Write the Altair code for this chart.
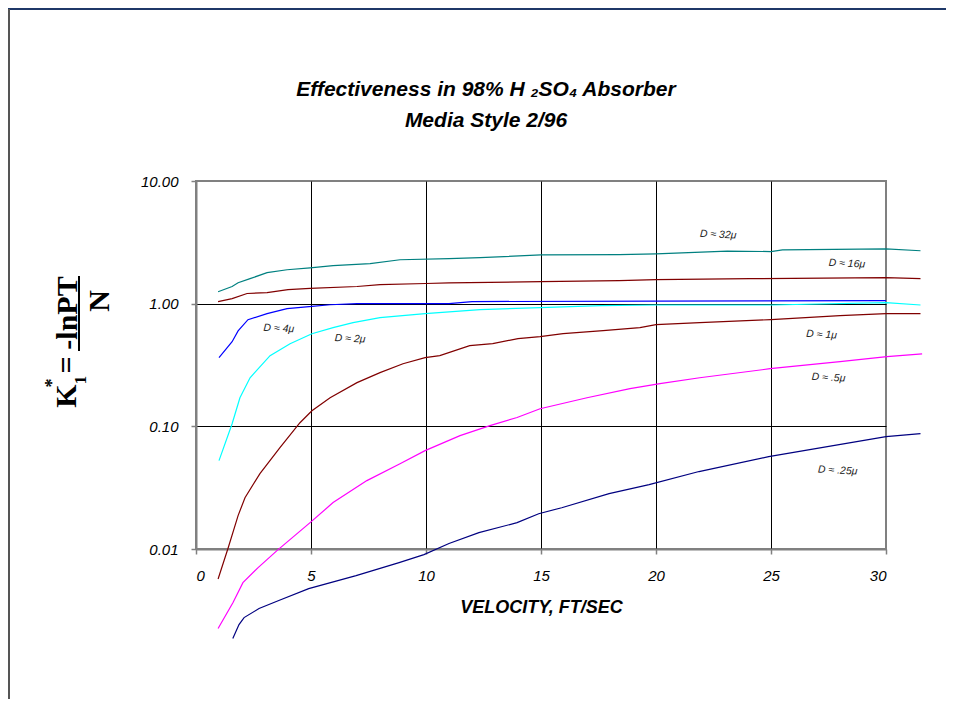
import altair as alt
import pandas as pd

# ---------------- data ----------------
series = ["D ≈ 32μ", "D ≈ 16μ", "D ≈ 4μ", "D ≈ 2μ", "D ≈ 1μ", "D ≈ .5μ", "D ≈ .25μ"]
colors = ["#008080", "#800000", "#0000FF", "#00FFFF", "#800000", "#FF00FF", "#000080"]

vel_32 = [0.96, 1.57, 1.83, 2.35, 3.09, 3.96, 4.96, 5.96, 7.57, 8.87, 11.0, 12.35, 15.0, 18.4, 20.0, 23.1, 25.0, 25.5, 30.0, 31.5]
k_32 = [1.25, 1.38, 1.48, 1.60, 1.79, 1.89, 1.96, 2.04, 2.12, 2.28, 2.33, 2.37, 2.50, 2.51, 2.55, 2.68, 2.66, 2.74, 2.80, 2.70]

vel_16 = [0.96, 1.57, 2.22, 3.09, 4.0, 4.96, 7.0, 8.0, 10.0, 11.0, 15.0, 18.4, 20.0, 24.1, 30.0, 31.5]
k_16 = [1.04, 1.10, 1.21, 1.23, 1.30, 1.33, 1.38, 1.43, 1.46, 1.48, 1.51, 1.54, 1.57, 1.60, 1.63, 1.60]

vel_4 = [1.0, 1.57, 1.83, 2.26, 3.09, 3.96, 5.04, 5.83, 7.0, 11.0, 12.0, 20.0, 30.0]
k_4 = [0.363, 0.49, 0.60, 0.74, 0.83, 0.91, 0.95, 0.98, 1.0, 1.0, 1.04, 1.05, 1.06]

vel_2 = [1.0, 1.57, 1.91, 2.35, 3.22, 4.09, 5.04, 5.96, 6.83, 8.0, 9.96, 12.35, 14.96, 17.6, 20.0, 25.0, 30.0, 31.5]
k_2 = [0.0525, 0.105, 0.171, 0.249, 0.377, 0.472, 0.569, 0.637, 0.70, 0.769, 0.829, 0.894, 0.928, 0.964, 0.975, 0.975, 1.02, 0.975]

vel_1 = [0.96, 1.39, 1.83, 2.13, 2.78, 3.65, 4.52, 5.04, 5.83, 7.0, 8.0, 9.0, 9.96, 10.6, 11.9, 12.9, 14.0, 14.96, 15.96, 17.7, 19.3, 20.0, 21.9, 25.0, 28.0, 30.0, 31.5]
k_1 = [0.0057, 0.0101, 0.0187, 0.0262, 0.0412, 0.067, 0.107, 0.134, 0.171, 0.227, 0.274, 0.324, 0.363, 0.377, 0.455, 0.472, 0.519, 0.538, 0.569, 0.603, 0.637, 0.674, 0.70, 0.741, 0.798, 0.829, 0.83]

vel_05 = [0.96, 1.61, 2.04, 2.70, 3.52, 4.96, 5.96, 7.43, 8.87, 9.96, 11.48, 12.78, 13.96, 14.96, 17.0, 18.87, 20.17, 21.9, 24.96, 28.0, 30.04, 31.57]
k_05 = [0.00225, 0.00366, 0.00532, 0.00705, 0.0097, 0.0164, 0.0239, 0.0361, 0.0496, 0.0634, 0.084, 0.1014, 0.118, 0.139, 0.171, 0.203, 0.223, 0.249, 0.295, 0.337, 0.37, 0.39]

vel_025 = [1.6, 1.87, 2.09, 2.74, 3.6, 4.9, 6.96, 8.83, 9.91, 11.0, 12.3, 13.96, 14.9, 15.9, 17.96, 19.7, 21.87, 24.9, 27.96, 30.0, 31.5]
k_025 = [0.00186, 0.00242, 0.00276, 0.00327, 0.0038, 0.00475, 0.00607, 0.00774, 0.0090, 0.0111, 0.0136, 0.0164, 0.0194, 0.0217, 0.0283, 0.0335, 0.0428, 0.0566, 0.071, 0.0824, 0.0872]

label_vel = [22.7, 28.3, 3.6, 6.7, 27.2, 27.5, 27.9]
label_k = [3.65, 2.12, 0.626, 0.518, 0.559, 0.249, 0.0436]

x_ticks = [0, 5, 10, 15, 20, 25, 30]
y_ticks = [0.01, 0.1, 1, 10]

title_lines = ["Effectiveness in 98% H  ₂SO₄ Absorber", "Media Style 2/96"]
x_title = "VELOCITY, FT/SEC"

# ---------------- build table ----------------
vels = [vel_32, vel_16, vel_4, vel_2, vel_1, vel_05, vel_025]
ks = [k_32, k_16, k_4, k_2, k_1, k_05, k_025]
rows = []
for name, vv, kk in zip(series, vels, ks):
    for v, k in zip(vv, kk):
        rows.append({"series": name, "vel": v, "k": k})
df = pd.DataFrame(rows)
lab = pd.DataFrame({"series": series, "vel": label_vel, "k": label_k})

SANS = "Liberation Sans"
SERIF = "Liberation Serif"
BORDER = "#808080"

x_axis = alt.Axis(
    values=x_ticks, format="d",
    labelFont=SANS, labelFontStyle="italic", labelFontSize=15, labelColor="black",
    labelPadding=14, tickSize=5, tickColor=BORDER, tickWidth=1.5,
    domainColor=BORDER, domainWidth=2,
    grid=True, gridWidth=1,
    gridColor={"condition": {"test": "datum.value == 0 || datum.value == 30", "value": "transparent"}, "value": "#000000"},
    title=x_title, titleFont=SANS, titleFontSize=18, titleFontStyle="italic",
    titleFontWeight="bold", titleColor="black", titlePadding=15,
)
y_axis = alt.Axis(
    values=y_ticks, format=".2f",
    labelFont=SANS, labelFontStyle="italic", labelFontSize=15, labelColor="black",
    labelPadding=13, tickSize=5, tickColor=BORDER, tickWidth=1.5,
    domainColor=BORDER, domainWidth=2,
    grid=True, gridWidth=1,
    gridColor={"condition": {"test": "datum.value == 10 || datum.value == 0.01", "value": "transparent"}, "value": "#000000"},
    title=None,
)
x_enc = alt.X("vel:Q", scale=alt.Scale(domain=[0, 30], nice=False, zero=False), axis=x_axis)
y_enc = alt.Y("k:Q", scale=alt.Scale(type="log", domain=[0.01, 10], nice=False), axis=y_axis)
color_enc = alt.Color("series:N", scale=alt.Scale(domain=series, range=colors), legend=None)

lines = alt.Chart(df).mark_line(strokeWidth=1.2, clip=False).encode(
    x=x_enc, y=y_enc, color=color_enc, detail="series:N"
)

labels = alt.Chart(lab).mark_text(
    font=SANS, fontStyle="italic", fontSize=10.5, angle=3, color="#222222"
).encode(x=x_enc, y=y_enc, text="series:N")


def ann(txt, px, py, **kw):
    return alt.Chart(pd.DataFrame({"t": [txt]})).mark_text(**kw).encode(
        x=alt.value(px), y=alt.value(py), text="t:N"
    )


title1 = ann(title_lines[0], 290, -91, font=SANS, fontSize=21, fontStyle="italic",
             fontWeight="bold", color="black", align="center", baseline="middle")
title2 = ann(title_lines[1], 290, -60, font=SANS, fontSize=21, fontStyle="italic",
             fontWeight="bold", color="black", align="center", baseline="middle")

yk = ann("K", -129, 215, font=SERIF, fontSize=30, fontWeight="bold", angle=270,
         align="center", baseline="middle", color="black")
y1 = ann("1", -115, 199, font=SERIF, fontSize=17, fontWeight="bold", angle=270,
         align="center", baseline="middle", color="black")
ystar = ann("*", -143, 202, font=SERIF, fontSize=18, fontWeight="bold", angle=270,
            align="center", baseline="middle", color="black")
yeq = ann("=", -129, 184, font=SERIF, fontSize=30, fontWeight="bold", angle=270,
          align="center", baseline="middle", color="black")
ynum = ann("-lnPT", -128, 132, font=SERIF, fontSize=30, fontWeight="bold", angle=270,
           align="center", baseline="middle", color="black")
yden = ann("N", -96, 120, font=SERIF, fontSize=30, fontWeight="bold", angle=270,
           align="center", baseline="middle", color="black")
ybar = alt.Chart(pd.DataFrame({"t": [0]})).mark_rule(color="black", strokeWidth=2).encode(
    x=alt.value(-117), y=alt.value(95), y2=alt.value(170)
)

frame_top = alt.Chart(pd.DataFrame({"t": [0]})).mark_rule(color="#1F3868", strokeWidth=2).encode(
    x=alt.value(-188), x2=alt.value(762), y=alt.value(-172)
)
frame_left = alt.Chart(pd.DataFrame({"t": [0]})).mark_rule(color="#555555", strokeWidth=2).encode(
    x=alt.value(-187), y=alt.value(-172), y2=alt.value(520)
)

chart = alt.layer(
    frame_top, frame_left, lines, labels, title1, title2,
    yk, y1, ystar, yeq, ynum, yden, ybar
).properties(
    width=690, height=368,
    padding={"left": 188, "top": 173, "right": 60, "bottom": 150},
    autosize=alt.AutoSizeParams(type="none"),
    background="white",
).configure_view(stroke=BORDER, strokeWidth=2)

chart.save("out.html", embed_options={"renderer": "svg", "actions": False})
